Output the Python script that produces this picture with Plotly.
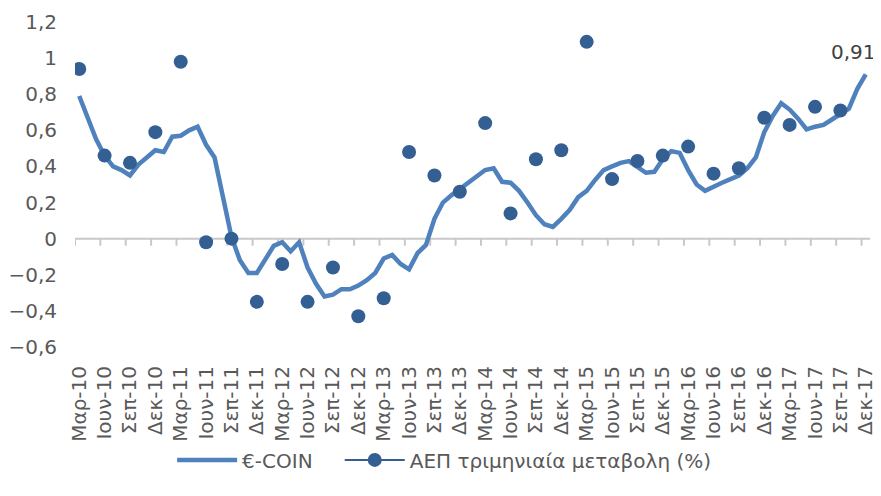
import plotly.graph_objects as go

# monthly €-COIN, Mar-10 .. Dec-17
months_gr = ["Ιαν", "Φεβ", "Μαρ", "Απρ", "Μαι", "Ιουν", "Ιουλ", "Αυγ", "Σεπ", "Οκτ", "Νοε", "Δεκ"]
ecoin = [
    0.79, 0.67, 0.55, 0.46, 0.40, 0.38, 0.35, 0.41, 0.45, 0.49,
    0.48, 0.565, 0.57, 0.60, 0.62, 0.52, 0.45, 0.23, 0.01, -0.12,
    -0.19, -0.19, -0.12, -0.04, -0.02, -0.07, -0.02, -0.16, -0.25, -0.32,
    -0.31, -0.28, -0.28, -0.26, -0.23, -0.19, -0.11, -0.09, -0.14, -0.17,
    -0.08, -0.035, 0.11, 0.20, 0.24, 0.275, 0.31, 0.35, 0.38, 0.39,
    0.315, 0.31, 0.265, 0.20, 0.13, 0.08, 0.065, 0.11, 0.16, 0.23,
    0.265, 0.325, 0.38, 0.40, 0.42, 0.43, 0.40, 0.365, 0.37, 0.44,
    0.485, 0.475, 0.38, 0.30, 0.265, 0.29, 0.31, 0.33, 0.35, 0.39,
    0.45, 0.59, 0.68, 0.75, 0.715, 0.665, 0.605, 0.62, 0.63, 0.66,
    0.69, 0.72, 0.83, 0.91,
]

# quarterly GDP change (%), Mar-10 .. Sep-17
gdp_qoq = [
    0.94, 0.46, 0.42, 0.59, 0.98, -0.02, 0.00, -0.35,
    -0.14, -0.35, -0.16, -0.43, -0.33, 0.48, 0.35, 0.26,
    0.64, 0.14, 0.44, 0.49, 1.09, 0.33, 0.43, 0.46,
    0.51, 0.36, 0.39, 0.67, 0.63, 0.73, 0.71,
]

# month labels (start Mar-2010)
month_labels = []
for n in range(len(ecoin)):
    m = (2 + n) % 12
    yr = 10 + (2 + n) // 12
    month_labels.append(f"{months_gr[m]}-{yr}")
idx = list(range(len(ecoin)))
gdp_x = idx[::3][:len(gdp_qoq)]

LINE_C = "#4F81BD"
DOT_C = "#335F93"
TXT_C = "#595959"
AXIS_C = "#C8C8C8"

fig = go.Figure()
fig.add_trace(go.Scatter(
    x=idx, y=ecoin, mode="lines", name="€-COIN",
    line=dict(color=LINE_C, width=4.5),
    legend="legend",
))
fig.add_trace(go.Scatter(
    x=gdp_x, y=gdp_qoq, mode="markers", name="ΑΕΠ τριμηνιαία μεταβολη (%)",
    showlegend=False,
    marker=dict(color=DOT_C, size=14),
))
# legend entry only: line with marker, like the original
fig.add_trace(go.Scatter(
    x=[None], y=[None], mode="lines+markers", name="ΑΕΠ τριμηνιαία μεταβολη (%)",
    line=dict(color=DOT_C, width=2), marker=dict(color=DOT_C, size=14),
    legend="legend2",
))

xrange = [-0.5, len(ecoin) - 0.5]

# category axis crossing at zero, with tick marks between quarters
fig.add_shape(type="line", xref="x", yref="y", x0=xrange[0], x1=xrange[1],
              y0=0, y1=0, line=dict(color=AXIS_C, width=2), layer="between")
for t in idx[::3]:
    fig.add_shape(type="line", xref="x", yref="y", x0=t - 0.5, x1=t - 0.5,
                  y0=0, y1=-0.039, line=dict(color=AXIS_C, width=2), layer="between")

fig.add_annotation(
    x=idx[-1], y=ecoin[-1], text="0,91", showarrow=False,
    xshift=-12, yshift=22, font=dict(size=20, color="#404040"),
)

leg_common = dict(
    orientation="h", xref="container", yref="container",
    xanchor="left", y=0.074, yanchor="middle",
    bgcolor="rgba(0,0,0,0)", itemwidth=60,
    font=dict(size=20, color=TXT_C),
)
# page body adds an 8px offset
fig.update_layout(
    width=873, height=488,
    margin=dict(l=67, r=11, t=14, b=149),
    paper_bgcolor="white", plot_bgcolor="white",
    separators=",.",
    font=dict(family="DejaVu Sans", color=TXT_C),
    showlegend=True,
    legend=dict(x=0.188, **leg_common),
    legend2=dict(x=0.38, **leg_common),
    xaxis=dict(
        range=xrange, automargin=False,
        tickvals=idx[::3], ticktext=month_labels[::3],
        tickangle=-90, tickfont=dict(size=20, color=TXT_C),
        showgrid=False, zeroline=False, showline=False, ticks="",
        ticklabelstandoff=14,
    ),
    yaxis=dict(
        range=[-0.6, 1.2], dtick=0.2, tickformat=".1~f", automargin=False,
        tickfont=dict(size=20, color=TXT_C), showgrid=False,
        zeroline=False, showline=False, ticks="", ticklabelstandoff=17,
    ),
)

fig.write_html("out.html")
